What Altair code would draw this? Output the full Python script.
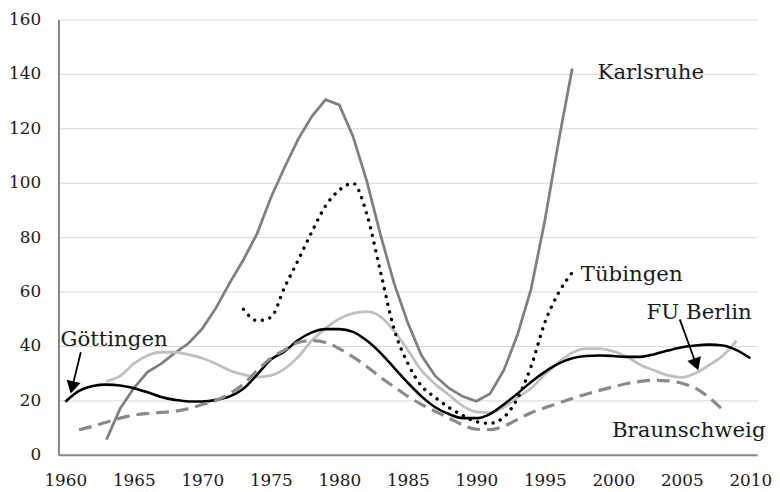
import altair as alt
import pandas as pd

# ---- data ----
karlsruhe_start = 1963
karlsruhe = [5.6, 17, 24.5, 30.4, 33.5, 37.5, 41, 46.4, 54, 63.2, 71.7, 81.3, 94.5,
             105.6, 116, 124.4, 130.5, 128.6, 117, 100.7, 81, 63, 48.5, 36.5, 29,
             24.5, 21.5, 19.7, 22.5, 31, 44, 61, 86, 115, 142]

tuebingen_start = 1973
tuebingen = [53.5, 49.3, 50.5, 61.5, 71.6, 82, 91.5, 97.3, 99.8, 88.6, 67.4, 46.2,
             33.6, 25.3, 21.1, 17.4, 14.5, 12.2, 11.6, 13.8, 20.7, 32.5, 48.6, 59.5, 67]

goettingen_start = 1960
goettingen = [19.5, 23.5, 25.3, 25.8, 25.5, 24.5, 23, 21.3, 20.2, 19.6, 19.6, 20.2,
              21.5, 24.3, 29.5, 35, 38, 42.2, 45, 46.2, 46.2, 45.2, 42, 37.5, 32,
              26.5, 21.5, 17.5, 15, 13.5, 13.5, 15, 18.5, 22.5, 26.8, 30.5, 33.5,
              35.5, 36.3, 36.5, 36.3, 36, 36, 37, 38.3, 39.5, 40.2, 40.5, 40.2, 38.5, 35.5]

fuberlin_start = 1963
fuberlin = [27, 29, 33.5, 36.5, 37.7, 37.7, 36.8, 35.5, 33.5, 31, 29.5, 28.6, 29.2,
            31.6, 36, 42, 46.5, 50, 52, 52.6, 50.8, 45.5, 38.5, 31, 26, 22, 18,
            15.8, 15.5, 17.5, 21, 24.5, 29.5, 34, 37.5, 39, 39, 38, 36, 33, 31,
            29.2, 28.5, 30, 33, 36.5, 42]

braunschweig_start = 1961
braunschweig = [9.2, 10.5, 12, 13.5, 14.6, 15.2, 15.6, 16, 17, 18.5, 20, 22.5, 26,
                31, 35.5, 38.5, 41.3, 42, 41.3, 39, 36, 32.5, 28.5, 25, 21.5, 18.5,
                16, 13.5, 11, 9.4, 9.3, 10.5, 13, 15.5, 17.3, 19, 20.7, 22.3, 23.7,
                25, 26.2, 27, 27.4, 27.2, 26.3, 24.5, 21, 16.5]

x_ticks = list(range(1960, 2011, 5))
y_ticks = list(range(0, 161, 20))

label_names = ["Karlsruhe", "Tübingen", "FU Berlin", "Braunschweig", "Göttingen"]
label_x = [1998.85, 1997.62, 2002.43, 1999.9, 1959.64]
label_y = [138.2, 63.7, 49.8, 6.7, 40.0]

arrow_x = [1961.13, 2004.85]
arrow_y = [37.7, 49.8]
arrow_x2 = [1960.5, 2006.05]
arrow_y2 = [24.8, 33.2]
arrow_angle = [13.5, 340.5]

SERIF = "DejaVu Serif"


def frame(start, values):
    return pd.DataFrame({"year": list(range(start, start + len(values))), "value": values})


x_scale = alt.Scale(domain=[1959.5, 2010.5], nice=False, zero=False)
y_scale = alt.Scale(domain=[0, 160], nice=False)

x_enc = alt.X("year:Q", scale=x_scale,
              axis=alt.Axis(values=x_ticks, format="d", grid=False, ticks=False, tickSize=0,
                            labelPadding=18, title=None, domainColor="#868686", domainWidth=2,
                            labelFlush=False))
y_enc = alt.Y("value:Q", scale=y_scale,
              axis=alt.Axis(values=y_ticks, grid=True, ticks=False, tickSize=0, labelPadding=18,
                            title=None, domainColor="#868686", domainWidth=2,
                            gridColor="#d9d9d9", gridWidth=1))

base_axes = alt.Chart(frame(goettingen_start, goettingen)).mark_line(opacity=0).encode(x=x_enc, y=y_enc)

karl = alt.Chart(frame(karlsruhe_start, karlsruhe)).mark_line(
    color="#808080", strokeWidth=2.8).encode(x="year:Q", y="value:Q")

fu = alt.Chart(frame(fuberlin_start, fuberlin)).mark_line(
    color="#c0c0c0", strokeWidth=2.8, interpolate="monotone").encode(x="year:Q", y="value:Q")

goe = alt.Chart(frame(goettingen_start, goettingen)).mark_line(
    color="#000000", strokeWidth=2.6, interpolate="monotone").encode(x="year:Q", y="value:Q")

tue = alt.Chart(frame(tuebingen_start, tuebingen)).mark_line(
    color="#000000", strokeWidth=3.4, strokeDash=[0.1, 7.8], strokeCap="round",
    interpolate="monotone").encode(x="year:Q", y="value:Q")

bra = alt.Chart(frame(braunschweig_start, braunschweig)).mark_line(
    color="#8a8a8a", strokeWidth=3.2, strokeDash=[13, 7],
    interpolate="monotone").encode(x="year:Q", y="value:Q")

labels_df = pd.DataFrame({"name": label_names, "x": label_x, "y": label_y})
labels = alt.Chart(labels_df).mark_text(
    align="left", baseline="alphabetic", font=SERIF, fontSize=21.5, color="#1a1a1a"
).encode(x=alt.X("x:Q"), y=alt.Y("y:Q"), text="name:N")

arrows_df = pd.DataFrame({"x": arrow_x, "y": arrow_y, "x2": arrow_x2, "y2": arrow_y2,
                          "angle": arrow_angle})
arrow_lines = alt.Chart(arrows_df).mark_rule(color="black", strokeWidth=1.8).encode(
    x="x:Q", y="y:Q", x2="x2:Q", y2="y2:Q")
arrow_heads = alt.Chart(arrows_df).mark_point(
    shape="triangle-down", filled=True, size=210, color="black", opacity=1
).encode(x="x2:Q", y="y2:Q", angle=alt.Angle("angle:Q", scale=None))

chart = alt.layer(base_axes, karl, fu, goe, tue, bra, arrow_lines, arrow_heads, labels).properties(
    width=706, height=440,
    autosize=alt.AutoSizeParams(type="none"),
    padding={"left": 51, "top": 9, "right": 15, "bottom": 35},
).configure_view(stroke=None).configure_axis(
    labelFont=SERIF, labelFontSize=17, labelColor="#1a1a1a"
)

chart.save("out.html", embed_options={"renderer": "svg", "actions": False})
